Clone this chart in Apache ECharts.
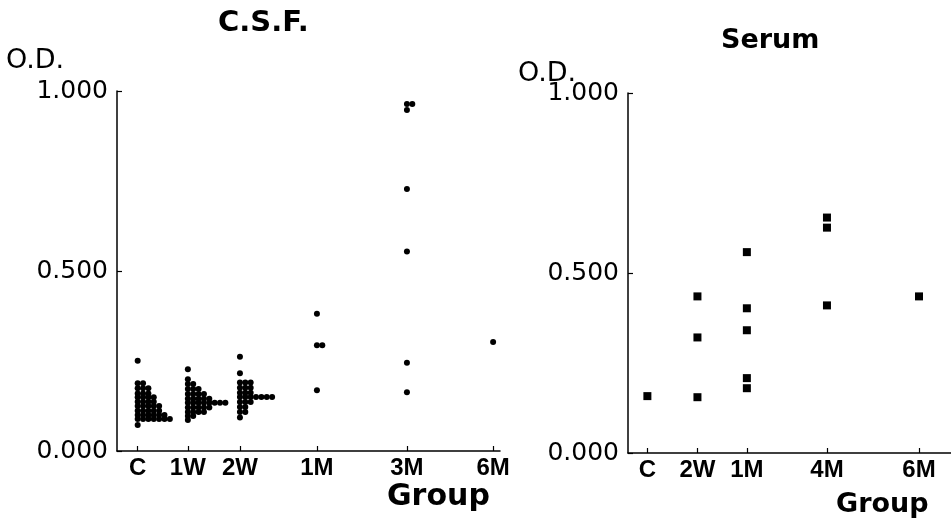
<!DOCTYPE html>
<html><head><meta charset="utf-8">
<script src="https://cdn.jsdelivr.net/npm/echarts@6/dist/echarts.min.js"></script>
<style>html,body{margin:0;padding:0;background:#fff}#c{width:951px;height:524px}</style>
</head><body><div id="c"></div>
<script>
// ---- data ----
const csfGroups = ['C', '1W', '2W', '1M', '3M', '6M'];
const csfPos = [5.4, 18.5, 32.1, 52.2, 75.7, 98.2];        // position along x axis (0-100)
const csfC  = [0.251, 0.188,0.188, 0.174,0.174,0.174, 0.160,0.160,0.160, 0.149,0.149,0.149,0.149,
               0.137,0.137,0.137,0.137, 0.125,0.125,0.125,0.125,0.125, 0.112,0.112,0.112,0.112,0.112,
               0.100,0.100,0.100,0.100,0.100,0.100, 0.089,0.089,0.089,0.089,0.089,0.089,0.089, 0.072];
const csf1W = [0.227, 0.199, 0.186,0.186, 0.172,0.172,0.172, 0.158,0.158,0.158,0.158,
               0.145,0.145,0.145,0.145,0.145, 0.134,0.134,0.134,0.134,0.134,0.134,0.134,0.134,
               0.121,0.121,0.121,0.121,0.121, 0.108,0.108,0.108,0.108, 0.097,0.097, 0.086];
const csf2W = [0.262, 0.216, 0.190,0.190,0.190, 0.176,0.176,0.176, 0.162,0.162,0.162,
               0.150,0.150,0.150,0.150,0.150,0.150,0.150, 0.136,0.136,0.136, 0.122,0.122,
               0.108,0.108, 0.093];
const csf1M = [0.381, 0.294, 0.294, 0.169];
const csf3M = [0.964, 0.964, 0.947, 0.728, 0.554, 0.245, 0.163];
const csf6M = [0.303];

const serumGroups = ['C', '2W', '1M', '4M', '6M'];
const serumPos = [6.0, 21.5, 36.8, 61.6, 90.1];
const serumC  = [0.158];
const serum2W = [0.435, 0.321, 0.155];
const serum1M = [0.558, 0.402, 0.341, 0.208, 0.180];
const serum4M = [0.654, 0.626, 0.410];
const serum6M = [0.435];

const yTicks = [0, 0.5, 1.0];

// ---- layout helpers: stack equal values side by side ----
function swarm(values, pos, step) {
  const seen = {};
  return values.map(v => {
    const k = seen[v] || 0; seen[v] = k + 1;
    return [pos + k * step, v];
  });
}
const csfSets = [csfC, csf1W, csf2W, csf1M, csf3M, csf6M];
const serumSets = [serumC, serum2W, serum1M, serum4M, serum6M];
const csfData = [].concat(...csfSets.map((s, i) => swarm(s, csfPos[i], 1.4)));
const serumData = [].concat(...serumSets.map((s, i) => swarm(s, serumPos[i], 2.2)));

const FONT = 'DejaVu Sans';
function nearestName(v, pos, names) {
  let b = 0; pos.forEach((p, i) => { if (Math.abs(p - v) < Math.abs(pos[b] - v)) b = i; });
  return names[b];
}
function xAxis(gi, pos, names) {
  return {
    gridIndex: gi, type: 'value', min: 0, max: 100,
    axisLine: { lineStyle: { color: '#000', width: 1.5 } },
    axisTick: { show: true, inside: true, length: 5, customValues: pos, lineStyle: { color: '#000', width: 1.2 } },
    axisLabel: { customValues: pos, formatter: v => nearestName(v, pos, names),
      color: '#000', fontFamily: 'Liberation Sans', fontWeight: 'bold', fontSize: 24, margin: 5 },
    splitLine: { show: false }
  };
}
function yAxis(gi) {
  return {
    gridIndex: gi, type: 'value', min: 0, max: 1, interval: 0.5,
    axisLine: { show: true, lineStyle: { color: '#000', width: 1.5 } },
    axisTick: { show: true, inside: true, length: 5, lineStyle: { color: '#000', width: 1.2 } },
    axisLabel: { formatter: v => v.toFixed(3), color: '#000', fontFamily: FONT, fontSize: 25, margin: 9 },
    splitLine: { show: false }
  };
}
function ttl(text, left, top, size, bold) {
  return { text, left, top, padding: 0, textStyle: { fontFamily: FONT, fontSize: size,
    fontWeight: bold ? 'bold' : 'normal', color: '#000' } };
}

const chart = echarts.init(document.getElementById('c'), null, { renderer: 'canvas' });
chart.setOption({
  backgroundColor: '#fff',
  animation: false,
  title: [
    ttl('C.S.F.', 218, 9, 29, true),
    ttl('Serum', 721, 27, 27, true),
    ttl('O.D.', 6, 47, 27, false),
    ttl('O.D.', 518, 60, 27, false),
    ttl('Group', 387, 482, 30, true),
    ttl('Group', 836, 491, 27, true)
  ],
  grid: [
    { left: 117, right: 451, top: 91, bottom: 73 },
    { left: 628, right: 0, top: 93, bottom: 71 }
  ],
  xAxis: [xAxis(0, csfPos, csfGroups), xAxis(1, serumPos, serumGroups)],
  yAxis: [yAxis(0), yAxis(1)],
  series: [
    { type: 'scatter', xAxisIndex: 0, yAxisIndex: 0, data: csfData, symbol: 'circle',
      symbolSize: 6, itemStyle: { color: '#000', opacity: 1 } },
    { type: 'scatter', xAxisIndex: 1, yAxisIndex: 1, data: serumData, symbol: 'rect',
      symbolSize: 8, itemStyle: { color: '#000', opacity: 1 } }
  ]
});
</script></body></html>
